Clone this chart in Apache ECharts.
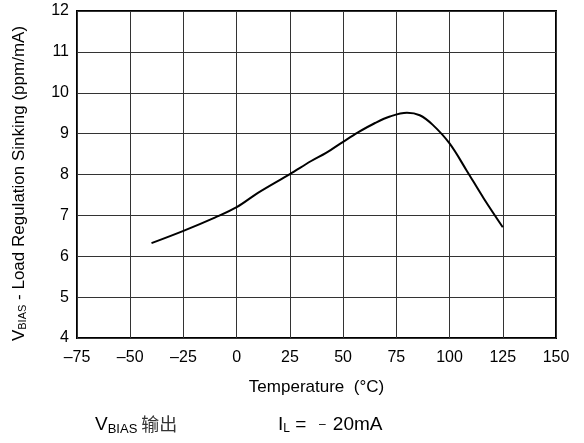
<!DOCTYPE html>
<html>
<head>
<meta charset="utf-8">
<script src="https://cdn.jsdelivr.net/npm/echarts@6/dist/echarts.min.js"></script>
<style>
  html, body { margin: 0; padding: 0; background: #fff; }
  #chart { width: 584px; height: 443px; }
</style>
</head>
<body>
<div id="chart"></div>
<script>
// temperature (°C) and load regulation sinking (ppm/mA)
var temps = [-40, -25, -10, 0, 10, 25, 35, 42, 50, 57, 65, 72, 80, 86, 92, 100, 108, 116, 125];
var regulation = [6.32, 6.62, 6.95, 7.2, 7.55, 8.01, 8.33, 8.53, 8.8, 9.03, 9.26, 9.42, 9.51, 9.45, 9.22, 8.76, 8.1, 7.42, 6.71];

var xTicks = { min: -75, max: 150, step: 25 };
var yTicks = { min: 4, max: 12, step: 1 };

var font = "Liberation Sans, Arial, sans-serif";

var myChart = echarts.init(document.getElementById("chart"));

var points = temps.map(function (t, i) {
  return [t, regulation[i]];
});

var option = {
  animation: false,
  backgroundColor: "#fff",
  textStyle: { fontFamily: font, color: "#000" },
  grid: {
    left: 77,
    right: 28,
    top: 11,
    bottom: 105,
    show: true,
    borderColor: "#000",
    borderWidth: 2,
  },
  xAxis: {
    type: "value",
    min: xTicks.min,
    max: xTicks.max,
    interval: xTicks.step,
    name: "Temperature  (°C)",
    nameLocation: "middle",
    nameGap: 41,
    nameTextStyle: { fontFamily: font, fontSize: 17, color: "#000" },
    axisLine: { show: false },
    axisTick: { show: false },
    axisLabel: {
      fontFamily: font,
      fontSize: 16,
      color: "#000",
      margin: 12,
      formatter: function (v) {
        return String(v).replace("-", "\u2013");
      },
    },
    splitLine: { show: true, lineStyle: { color: "#333", width: 1 } },
  },
  yAxis: {
    type: "value",
    min: yTicks.min,
    max: yTicks.max,
    interval: yTicks.step,
    name: "{v|V}{s|BIAS}{e| - Load Regulation Sinking (ppm/mA)}",
    nameLocation: "middle",
    nameGap: 49,
    nameTextStyle: {
      fontFamily: font,
      fontSize: 17,
      color: "#000",
      rich: {
        v: { fontFamily: font, fontSize: 17, color: "#000" },
        s: { fontFamily: font, fontSize: 11, color: "#000", verticalAlign: "bottom", padding: [7, 0, 0, 0] },
        e: { fontFamily: font, fontSize: 17, color: "#000", padding: [0, 18, 0, 0] },
      },
    },
    axisLine: { show: false },
    axisTick: { show: false },
    axisLabel: { fontFamily: font, fontSize: 16, color: "#000", margin: 8 },
    splitLine: { show: true, lineStyle: { color: "#333", width: 1 } },
  },
  series: [
    {
      type: "line",
      data: points,
      smooth: 0.35,
      showSymbol: false,
      lineStyle: { color: "#000", width: 2 },
    },
  ],
  graphic: [
    {
      type: "text",
      left: 95,
      top: 415,
      style: {
        text: "{v|V}{s|BIAS}{c| 输出}",
        fill: "#000",
        rich: {
          v: { fontFamily: font, fontSize: 19, fill: "#000" },
          s: { fontFamily: font, fontSize: 13, fill: "#000", verticalAlign: "bottom", padding: [9, 0, 0, 0] },
          c: { fontFamily: "Noto Sans CJK SC", fontSize: 18, fill: "#333" },
        },
      },
    },
    {
      type: "text",
      left: 278,
      top: 415,
      style: {
        text: "{v|I}{s|L}{v| =  }{m|\u2013}{v| 20mA}",
        fill: "#000",
        rich: {
          v: { fontFamily: font, fontSize: 19, fill: "#000" },
          m: { fontFamily: font, fontSize: 12, fill: "#000", padding: [1, 2, 1, 2] },
          s: { fontFamily: font, fontSize: 12, fill: "#000", verticalAlign: "bottom", padding: [9, 0, 0, 0] },
        },
      },
    },
  ],
};

option && myChart.setOption(option);
</script>
</body>
</html>
